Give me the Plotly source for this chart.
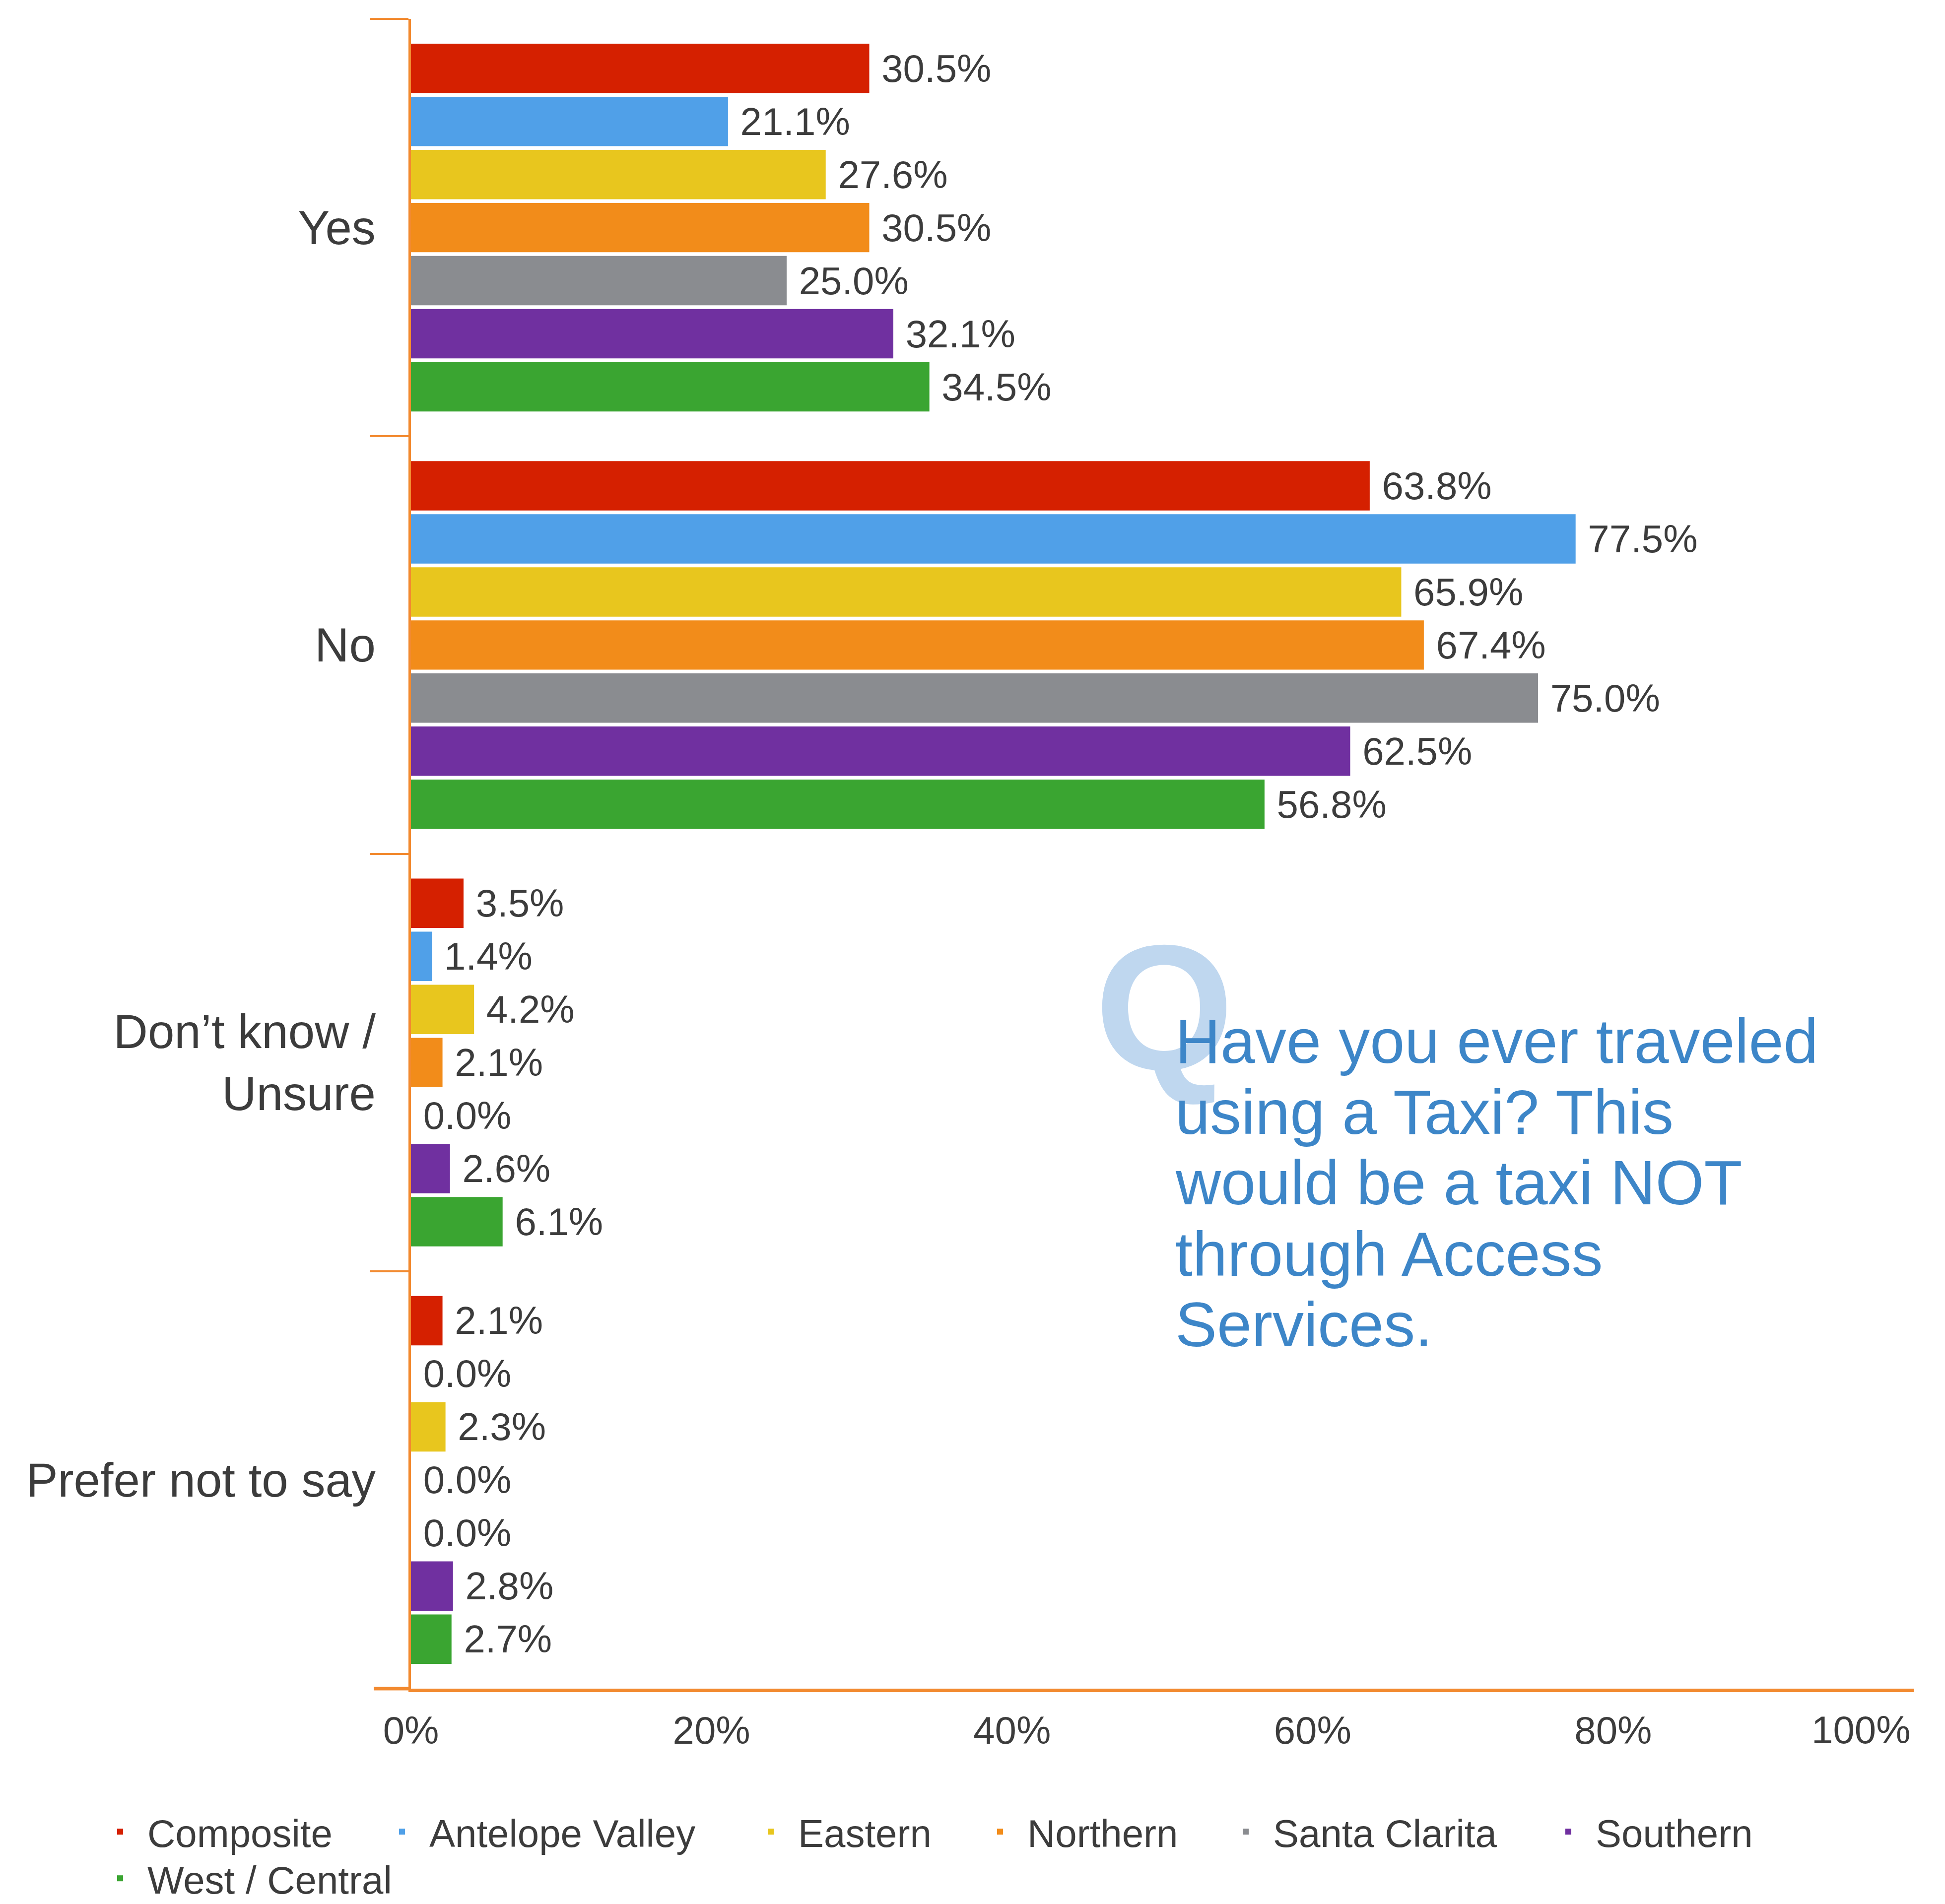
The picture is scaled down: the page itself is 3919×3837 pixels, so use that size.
import plotly.graph_objects as go

categories = ["Yes", "No", "Don’t know /<br>Unsure", "Prefer not to say"]
series_names = ["Composite", "Antelope Valley", "Eastern", "Northern",
                "Santa Clarita", "Southern", "West / Central"]
composite = [30.5, 63.8, 3.5, 2.1]
antelope_valley = [21.1, 77.5, 1.4, 0.0]
eastern = [27.6, 65.9, 4.2, 2.3]
northern = [30.5, 67.4, 2.1, 0.0]
santa_clarita = [25.0, 75.0, 0.0, 0.0]
southern = [32.1, 62.5, 2.6, 2.8]
west_central = [34.5, 56.8, 6.1, 2.7]
series_values = [composite, antelope_valley, eastern, northern,
                 santa_clarita, southern, west_central]
colors = ["#D52000", "#50A0E8", "#E8C61E", "#F28C1A", "#8A8C90", "#7030A0", "#3AA531"]
x_tickvals = [0, 20, 40, 60, 80]
x_ticktext = ["0%", "20%", "40%", "60%", "80%"]
x_last_tick = (100, "100%")
question_lines = ["Have you ever traveled", "using a Taxi? This",
                  "would be a taxi NOT", "through Access", "Services."]

FONT = "Liberation Sans, Arial, Helvetica, sans-serif"
TXT = "#3c3c3c"
ORANGE = "#F28A30"

W, H = 3919, 3837
L, R, T, B = 820, 71, 30, 442
pw, ph = W - L - R, H - T - B

def px_x(x):
    return (x - L) / pw

def px_y(y):
    return (H - B - y) / ph

# legend entry layout (text start x, legend top) in figure pixels
legend_text_x = [297, 865, 1608, 2070, 2565, 3215, 297]
legend_row_top = [3626, 3626, 3626, 3626, 3626, 3626, 3720]

fig = go.Figure()
legend_ids = ["legend"] + [f"legend{i}" for i in range(2, len(series_names) + 1)]
for name, vals, col, lid in zip(series_names, series_values, colors, legend_ids):
    fig.add_trace(go.Bar(
        y=categories, x=vals, name=name, orientation="h",
        marker=dict(color=col, line=dict(width=0)),
        text=[f" {v:.1f}%" for v in vals], textposition="outside",
        textfont=dict(size=78, color=TXT, family=FONT),
        constraintext="none", cliponaxis=False,
        legend=lid, showlegend=True,
    ))

# Big light "Q"
fig.add_annotation(x=px_x(2338), y=px_y(2022), xref="paper", yref="paper",
                   text="<b>Q</b>", showarrow=False, xanchor="center", yanchor="middle",
                   font=dict(size=360, color="#BFD7EF", family=FONT))
line_y = [2090, 2233, 2375, 2519, 2661]
for txt, yy in zip(question_lines, line_y):
    fig.add_annotation(x=px_x(2358), y=px_y(yy), xref="paper", yref="paper",
                       text=txt, showarrow=False, xanchor="left", yanchor="middle",
                       font=dict(size=126, color="#3D86C8", family=FONT))

# last x tick label kept inside the figure (right-aligned like the original)
fig.add_annotation(x=x_last_tick[0], y=0, xref="x", yref="paper", text=x_last_tick[1],
                   showarrow=False, xanchor="right", yanchor="middle", xshift=-4,
                   yshift=-83, font=dict(size=78, color=TXT, family=FONT))

# extension of the bottom axis line to the left (bottom category boundary tick)
fig.add_shape(type="line", xref="paper", yref="paper", x0=px_x(745), x1=0, y0=0, y1=0,
              line=dict(color=ORANGE, width=7))

legends = {}
for lid, tx, ty in zip(legend_ids, legend_text_x, legend_row_top):
    legends[lid] = dict(orientation="h", xref="container", yref="container",
                        x=(tx - 118) / W, y=1 - ty / H, xanchor="left", yanchor="top",
                        font=dict(size=78, color=TXT, family=FONT),
                        itemwidth=100, bgcolor="rgba(0,0,0,0)", visible=True)

fig.update_layout(
    width=W, height=H, barmode="group", bargap=0.11, bargroupgap=0.07,
    plot_bgcolor="white", paper_bgcolor="white", showlegend=True,
    margin=dict(l=L, r=R, t=T, b=B, autoexpand=False),
    font=dict(family=FONT, color=TXT),
    xaxis=dict(range=[0, 100], tickvals=x_tickvals, ticktext=x_ticktext,
               showgrid=False, zeroline=False, showline=True, linecolor=ORANGE,
               linewidth=7, ticks="", tickfont=dict(size=78, color=TXT),
               ticklabelstandoff=10, fixedrange=True),
    yaxis=dict(autorange="reversed", showgrid=False, zeroline=False,
               showline=True, linecolor=ORANGE, linewidth=5,
               ticks="outside", tickson="boundaries", ticklen=78, tickwidth=4,
               tickcolor=ORANGE, tickfont=dict(size=96, color=TXT),
               ticklabelstandoff=47),
    **legends,
)

fig.write_html("out.html")
